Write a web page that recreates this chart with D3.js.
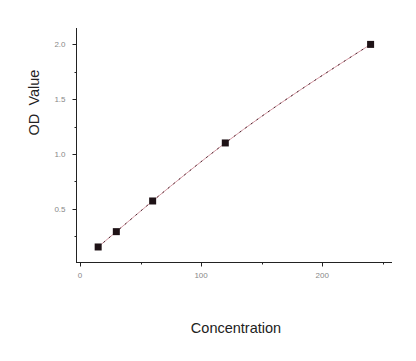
<!DOCTYPE html>
<html><head><meta charset="utf-8">
<script src="https://cdn.jsdelivr.net/npm/d3@7"></script>
<style>body{margin:0;background:#fff}svg{display:block}</style>
</head><body>
<svg id="c" width="416" height="361"></svg>
<script>
const concentration = [15, 30, 60, 120, 240];
const odValue = [0.15, 0.29, 0.57, 1.10, 2.00];
const xTicks = [0, 100, 200];
const xMinorTicks = [50, 150, 250];
const yTicks = [0.5, 1.0, 1.5, 2.0];
const yMinorTicks = [0.25, 0.75, 1.25, 1.75];

const svg = d3.select("#c");
const x = d3.scaleLinear().domain([0, 240]).range([80, 370.6]);
const y = d3.scaleLinear().domain([0, 2]).range([263.4, 44.4]);
const xLeft = 76.5, xRight = 392, yBottom = 262.5, yTop = 28;

const axisColor = "#222";
const font = "Arial, 'Liberation Sans', sans-serif";
// y axis
const gy = svg.append("g").attr("transform", `translate(${xLeft},0)`);
gy.append("line").attr("y1", yBottom).attr("y2", yTop).attr("stroke", axisColor);
gy.selectAll(".mj").data(yTicks).join("line").attr("x1", -4).attr("x2", 0)
  .attr("y1", d => Math.round(y(d)) + 0.5).attr("y2", d => Math.round(y(d)) + 0.5).attr("stroke", axisColor);
gy.selectAll(".mn").data(yMinorTicks).join("line").attr("x1", -2).attr("x2", 0)
  .attr("y1", d => Math.round(y(d)) + 0.5).attr("y2", d => Math.round(y(d)) + 0.5).attr("stroke", axisColor);
gy.selectAll("text").data(yTicks).join("text").attr("x", -11).attr("y", d => y(d) + 3)
  .attr("text-anchor", "end").attr("font-family", font)
  .attr("font-size", 8).attr("fill", "#888").text(d => d.toFixed(1));

// x axis
const gx = svg.append("g").attr("transform", `translate(0,${yBottom})`);
gx.append("line").attr("x1", xLeft - 0.5).attr("x2", xRight).attr("stroke", axisColor);
gx.selectAll(".mj").data(xTicks).join("line").attr("y1", 0).attr("y2", 4)
  .attr("x1", d => Math.round(x(d)) + 0.5).attr("x2", d => Math.round(x(d)) + 0.5).attr("stroke", axisColor);
gx.selectAll(".mn").data(xMinorTicks).join("line").attr("y1", 0).attr("y2", 2)
  .attr("x1", d => Math.round(x(d)) + 0.5).attr("x2", d => Math.round(x(d)) + 0.5).attr("stroke", axisColor);
gx.selectAll("text").data(xTicks).join("text").attr("x", d => x(d)).attr("y", 15)
  .attr("text-anchor", "middle").attr("font-family", font)
  .attr("font-size", 8).attr("fill", "#888").text(d => d);

// fitted curve
const pts = concentration.map((c, i) => [c, odValue[i]]);
const lineGen = d3.line().x(d => x(d[0])).y(d => y(d[1])).curve(d3.curveMonotoneX);
svg.append("path").datum(pts).attr("d", lineGen)
  .attr("fill", "none").attr("stroke", "#d49aa4").attr("stroke-width", 1);
svg.append("path").datum(pts).attr("d", lineGen)
  .attr("fill", "none").attr("stroke", "#4a2830").attr("stroke-width", 1).attr("stroke-dasharray", "2,5");

// points
svg.selectAll(".pt").data(pts).join("rect")
  .attr("x", d => x(d[0]) - 3.5).attr("y", d => y(d[1]) - 3.5)
  .attr("width", 7).attr("height", 7).attr("fill", "#1e1216");

// axis titles
svg.append("text").attr("transform", "translate(39,102.5) rotate(-90)")
  .attr("text-anchor", "middle").attr("font-family", font)
  .attr("font-size", 14.5).attr("fill", "#222").attr("xml:space", "preserve")
  .style("white-space", "pre").text("OD  Value");
svg.append("text").attr("x", 236).attr("y", 333)
  .attr("text-anchor", "middle").attr("font-family", font)
  .attr("font-size", 14.5).attr("fill", "#222").text("Concentration");
</script>
</body></html>
